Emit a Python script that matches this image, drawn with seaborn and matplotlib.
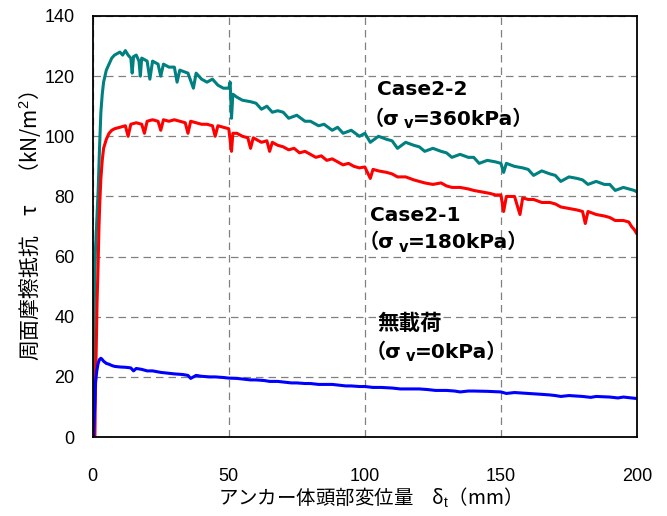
import numpy as np
import pandas as pd
import matplotlib
matplotlib.use("Agg")
import matplotlib.pyplot as plt
import seaborn as sns

# ---- data ----
case22_x = [0, 0.3, 0.6, 1.0, 1.5, 2.0, 2.5, 3.0, 3.5, 4, 5, 6, 7, 8, 9, 10, 11, 12, 13, 14, 14.5, 15, 16, 17, 17.5,
            18, 20, 21, 22, 24, 25, 26, 28, 30, 31, 32, 35, 37, 38, 40, 42, 44, 46, 48, 50, 50.5, 51, 51.5, 53, 55,
            58, 60, 62, 64, 66, 68, 70, 72, 75, 78, 80, 83, 85, 88, 90, 92, 95, 98, 100, 102, 105, 108, 110, 112,
            115, 118, 120, 122, 125, 128, 130, 132, 135, 138, 140, 142, 145, 148, 150, 151, 152, 155, 158, 160,
            162, 165, 168, 170, 172, 175, 178, 180, 182, 185, 188, 190, 192, 195, 197, 199, 200]
case22_y = [0, 20, 45, 62, 72, 82, 96, 108, 114, 118, 122, 124, 126, 127, 127.5, 128, 127, 128.5, 127, 126, 121,
            126.5, 127, 125, 120, 126, 125, 119, 125, 124, 120, 124, 123, 123, 118, 122, 121, 116, 121, 119, 118,
            119, 117, 116, 116, 118, 106, 114, 113, 112, 111.5, 111, 109, 110, 108, 108.5, 108, 106, 107, 105,
            105, 103.5, 104, 102, 103, 101, 102, 100, 101, 98, 100, 99, 98.5, 96, 98, 97, 96.5, 95, 96, 95, 94.5,
            93, 94, 93, 93, 91, 92, 91.5, 91, 88, 91, 90, 89.5, 89, 87, 88.5, 87.5, 87, 85, 86.5, 86, 85.5, 84, 85,
            84, 84, 82, 83, 82.5, 82, 81.5]

case21_x = [0.8, 1.0, 1.3, 1.6, 2.0, 2.3, 2.6, 3.0, 3.5, 4, 5, 6, 7, 8, 10, 12, 13, 14, 16, 18, 19, 20, 22, 24,
            25, 26, 28, 30, 32, 34, 35, 36, 38, 40, 42, 44, 45, 46, 48, 50, 51, 51.5, 53, 55, 57, 58, 59, 60, 62,
            64, 65, 66, 68, 70, 72, 74, 76, 78, 80, 82, 84, 86, 88, 90, 92, 94, 96, 98, 100, 102, 103, 105, 108,
            110, 112, 115, 118, 120, 122, 125, 128, 130, 132, 135, 138, 140, 143, 146, 148, 150, 151, 152, 155,
            157, 158, 160, 162, 165, 168, 170, 172, 175, 178, 180, 181, 182, 185, 188, 190, 192, 195, 197, 198,
            199, 200]
case21_y = [0, 15, 30, 45, 58, 70, 78, 86, 92, 96, 99, 101, 102, 102.5, 103, 103.5, 100, 104, 104.5, 104, 101,
            105, 105.5, 105, 102, 105.5, 105, 105.5, 105, 104.5, 101, 105, 104.5, 104, 104, 103.5, 100, 103.5,
            103, 102.5, 95, 101, 101, 100, 99.5, 96, 99.5, 99, 98, 98.5, 95, 98, 97, 96.5, 95.5, 96, 94.5, 95, 94,
            93, 93.5, 92, 92.5, 91.5, 90.5, 91, 90, 89.5, 89.8, 86, 89, 88.5, 88, 87.5, 86.5, 86.5, 85.5, 85,
            84.5, 84, 84.5, 83.5, 83, 83, 82.5, 82, 81.5, 81, 80.5, 80.5, 75, 80, 80, 74, 79.5, 79, 79, 78, 78,
            77.5, 76.5, 76, 75.5, 75, 71, 75, 74, 73.5, 73, 72, 72, 71.5, 70, 69, 67.5]

noload_x = [0.3, 0.5, 0.8, 1.0, 1.5, 2.0, 2.5, 3.0, 3.5, 4, 5, 6, 7, 8, 10, 12, 14, 15, 16, 18, 20, 22, 25, 28,
            30, 33, 35, 36, 38, 40, 43, 45, 48, 50, 53, 55, 58, 60, 63, 65, 68, 70, 73, 75, 78, 80, 83, 85, 88,
            90, 93, 95, 98, 100, 103, 106, 110, 113, 116, 120, 123, 126, 130, 133, 135, 138, 140, 145, 150, 152,
            155, 160, 165, 168, 170, 172, 175, 180, 183, 185, 190, 193, 195, 198, 200]
noload_y = [0, 5, 12, 18, 22, 24.5, 25.8, 26.2, 25.8, 25.2, 24.5, 24.2, 23.8, 23.5, 23.3, 23.2, 23, 22, 22.8,
            22.5, 22, 22, 21.5, 21.2, 21, 20.8, 20.5, 19.5, 20.5, 20.2, 20, 20, 19.8, 19.6, 19.5, 19.3, 19, 19,
            18.8, 18.5, 18.5, 18.3, 18, 18, 17.8, 17.8, 17.5, 17.5, 17.5, 17.3, 17, 17, 16.8, 16.8, 16.5, 16.5,
            16.3, 16, 16, 16, 15.8, 15.5, 15.5, 15.3, 15, 15.3, 15.3, 15.2, 15, 14.5, 14.8, 14.5, 14.2, 14, 13.8,
            13.5, 13.8, 13.5, 13.2, 13.5, 13.3, 13, 13.3, 13, 12.8]

series_names = ["Case2-2", "Case2-1", "無載荷"]
stress_labels = ["=360kPa）", "=180kPa）", "=0kPa）"]
x_ticks = [0, 50, 100, 150, 200]
y_ticks = [0, 20, 40, 60, 80, 100, 120, 140]

df = pd.concat([
    pd.DataFrame({"x": case22_x, "y": case22_y, "case": series_names[0]}),
    pd.DataFrame({"x": case21_x, "y": case21_y, "case": series_names[1]}),
    pd.DataFrame({"x": noload_x, "y": noload_y, "case": series_names[2]}),
], ignore_index=True)

sns.set_style("white")
plt.rcParams["font.family"] = ["Liberation Sans", "Noto Sans CJK JP", "DejaVu Sans"]
plt.rcParams["text.color"] = "black"
plt.rcParams["axes.labelcolor"] = "black"
plt.rcParams["mathtext.fontset"] = "custom"
plt.rcParams["mathtext.rm"] = "Liberation Sans"
plt.rcParams["mathtext.it"] = "Liberation Sans:italic"
plt.rcParams["mathtext.bf"] = "Liberation Sans:bold"

fig = plt.figure(figsize=(6.67, 5.16), dpi=100)
ax = fig.add_axes([0.139, 0.153, 0.816, 0.816])

palette = {"Case2-2": "#008080", "Case2-1": "#FF0000", "無載荷": "#0000FF"}
sns.lineplot(data=df, x="x", y="y", hue="case", palette=palette, estimator=None, sort=False,
             legend=False, linewidth=2.2, ax=ax)

ax.set_xlim(0, 200)
ax.set_ylim(0, 140)
ax.set_xticks(x_ticks)
ax.set_yticks(y_ticks)
ax.tick_params(axis="both", length=0, labelsize=13, colors="black")
ax.tick_params(axis="x", pad=22)
ax.tick_params(axis="y", pad=13)
ax.grid(True, linestyle=(0, (6, 4)), color="#808080", linewidth=0.9)
for sp in ax.spines.values():
    sp.set_color("black")
    sp.set_linewidth(1.3)

ax.set_xlabel("アンカー体頭部変位量　δ$_\\mathrm{t}$（mm）", fontsize=14, color="black",
              family=["Noto Sans CJK JP", "DejaVu Sans"], labelpad=0)
ax.set_ylabel("周面摩擦抵抗　τ　（kN/m$^\\mathrm{2}$）", fontsize=15, color="black",
              family=["Noto Sans CJK JP", "DejaVu Sans"], labelpad=1)

fam = ["DejaVu Sans", "Noto Sans CJK JP"]
title_pos = [(104.5, 115.5), (101.8, 73.8), (104.8, 37.9)]
sub_pos = [(99.6, 105.7), (97.8, 64.6), (100.4, 28.3)]
for name, (tx, ty), (sx, sy), stress in zip(series_names, title_pos, sub_pos, stress_labels):
    if name == "無載荷":
        ax.text(tx, ty, name, fontsize=15.5, fontweight="bold", ha="left", va="center", color="black",
                family=["Noto Sans CJK JP", "DejaVu Sans"])
    else:
        ax.text(tx, ty, name, fontsize=14.5, fontweight="bold", ha="left", va="center", color="black",
                family=fam)
    t1 = ax.text(sx, sy, "（σ", fontsize=14.5, fontweight="bold", ha="left", va="center", color="black",
                 family=fam)
    t2 = ax.annotate("v", xy=(1, -0.12), xycoords=t1, xytext=(3, 0), textcoords="offset points",
                     fontsize=10.5, fontweight="bold", color="black",
                     ha="left", va="bottom", family=fam)
    ax.annotate(stress, xy=(1, 0), xycoords=(t2, t1), fontsize=14.5, fontweight="bold", color="black",
                ha="left", va="bottom", family=fam)

fig.savefig("out.png", dpi=100)
